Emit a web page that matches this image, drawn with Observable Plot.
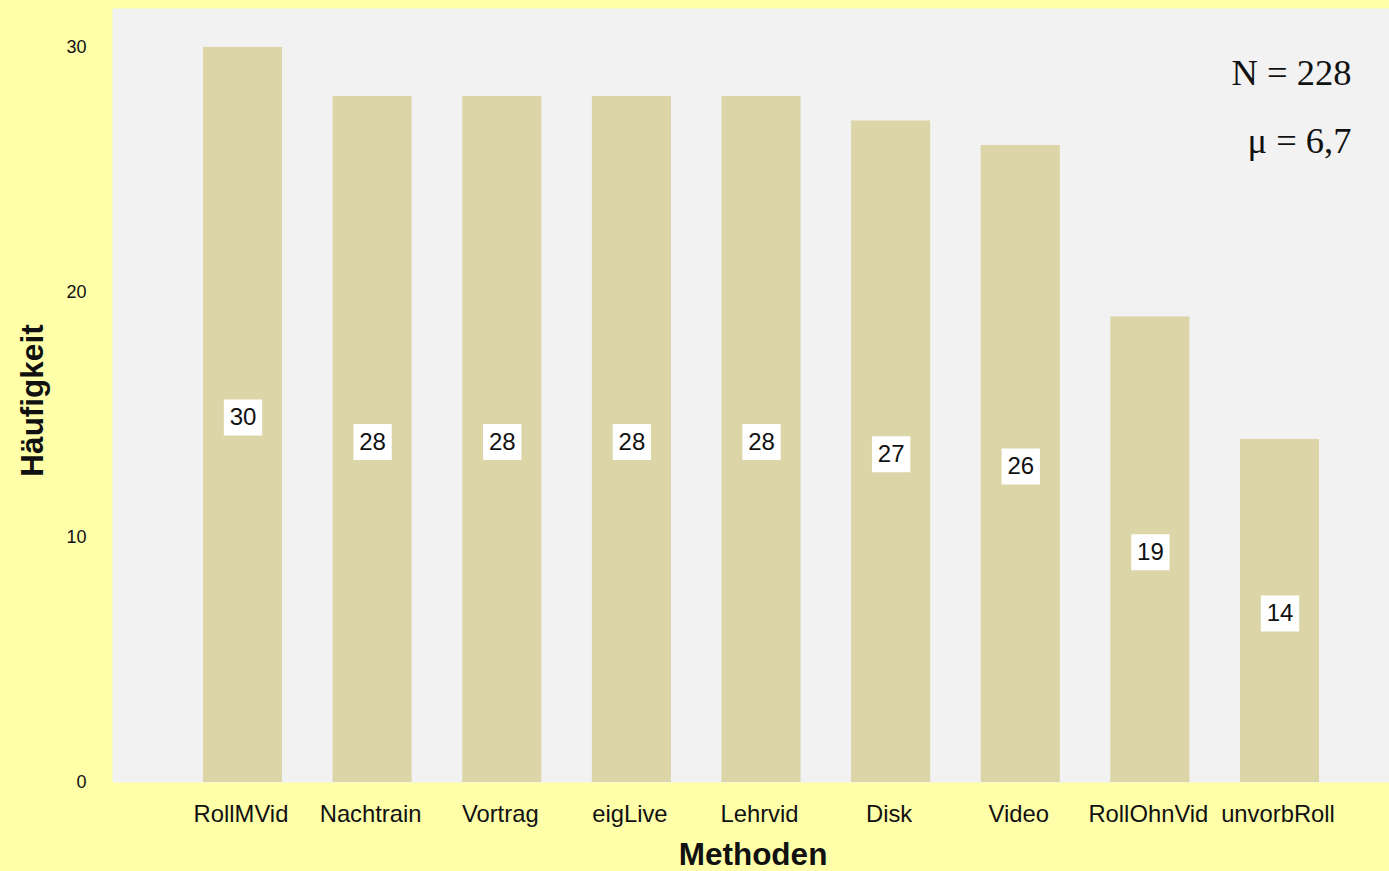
<!DOCTYPE html>
<html>
<head>
<meta charset="utf-8">
<script src="https://cdn.jsdelivr.net/npm/d3@7"></script>
<script src="https://cdn.jsdelivr.net/npm/@observablehq/plot@0.6"></script>
<style>
  html, body { margin: 0; padding: 0; background: #FFFFAA; }
  #chart svg { display: block; }
</style>
</head>
<body>
<div id="chart"></div>
<script>
const categories = ["RollMVid", "Nachtrain", "Vortrag", "eigLive", "Lehrvid", "Disk", "Video", "RollOhnVid", "unvorbRoll"];
const counts = [30, 28, 28, 28, 28, 27, 26, 19, 14];
const yTicks = [0, 10, 20, 30];
const annotations = ["N = 228", "μ = 6,7"];
const xTitle = "Methoden";
const yTitle = "Häufigkeit";

const data = categories.map((c, i) => ({method: c, count: counts[i]}));

// slightly wider-than-tall label box symbol
const labelBox = {
  draw(context, size) {
    const s = Math.sqrt(size);
    const w = s * 1.03 / 2, h = s * 0.97 / 2;
    context.moveTo(-w, -h);
    context.lineTo(w, -h);
    context.lineTo(w, h);
    context.lineTo(-w, h);
    context.closePath();
  }
};

const chart = Plot.plot({
  width: 1389,
  height: 871,
  marginLeft: 112,
  marginRight: 0,
  marginTop: 8,
  marginBottom: 89,
  style: {background: "#FFFFAA", color: "#111", fontFamily: "'Liberation Sans', Arial, sans-serif"},
  x: {domain: categories, range: [152.4, 1369.6], padding: 0.39, round: false, label: null},
  y: {domain: [0, 31.59], label: null},
  marks: [
    Plot.frame({fill: "#F2F2F2", stroke: "none"}),
    Plot.barY(data, {x: "method", y: "count", fill: "#DCD5A8"}),
    Plot.dot(data, {x: "method", y: d => d.count / 2, symbol: labelBox, r: 21, fill: "white", stroke: "none", dy: 2.5}),
    Plot.text(data, {x: "method", y: d => d.count / 2, text: d => String(d.count), fontSize: 24, fill: "#111", dy: 2.5}),
    Plot.axisX({tickSize: 0, tickPadding: 23, fontSize: 23.8, dx: -2, label: null}),
    Plot.axisY({ticks: yTicks, tickSize: 0, tickPadding: 26, fontSize: 18, label: null}),
    Plot.text([xTitle], {text: d => d, frameAnchor: "bottom", lineAnchor: "bottom", dx: 2, dy: 82, fontSize: 31.5, fontWeight: "bold", fill: "#111"}),
    Plot.text([yTitle], {text: d => d, frameAnchor: "left", textAnchor: "middle", rotate: -90, lineAnchor: "bottom", dx: -70, dy: 5, fontSize: 31.5, fontWeight: "bold", fill: "#111"}),
    Plot.text([annotations[0]], {text: d => d, frameAnchor: "top-right", textAnchor: "end", lineAnchor: "bottom", dx: -38, dy: 76, fontFamily: "'Liberation Serif', 'Times New Roman', serif", fontSize: 36.5, fill: "#111"}),
    Plot.text([annotations[1]], {text: d => d, frameAnchor: "top-right", textAnchor: "end", lineAnchor: "bottom", dx: -38, dy: 144, fontFamily: "'Liberation Serif', 'Times New Roman', serif", fontSize: 36.5, fill: "#111"})
  ]
});

document.getElementById("chart").appendChild(chart);
</script>
</body>
</html>
